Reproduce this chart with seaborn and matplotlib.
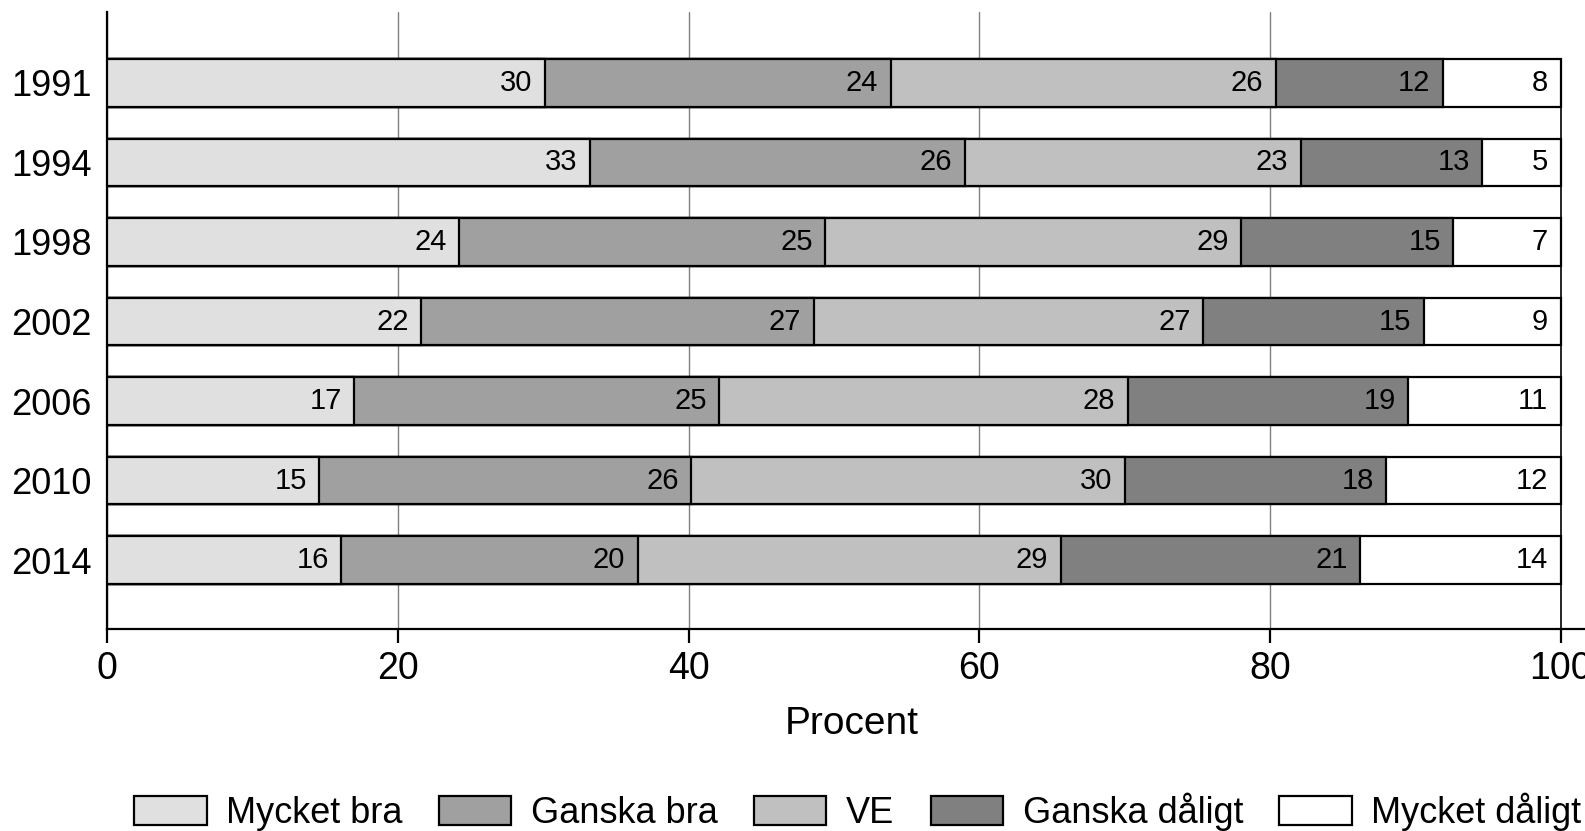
import pandas as pd
import seaborn as sns
import matplotlib.pyplot as plt

# data
years = ["1991", "1994", "1998", "2002", "2006", "2010", "2014"]
categories = ["Mycket bra", "Ganska bra", "VE", "Ganska dåligt", "Mycket dåligt"]
# printed (rounded) percentages
mycket_bra = [30, 33, 24, 22, 17, 15, 16]
ganska_bra = [24, 26, 25, 27, 25, 26, 20]
ve = [26, 23, 29, 27, 28, 30, 29]
ganska_daligt = [12, 13, 15, 15, 19, 18, 21]
mycket_daligt = [8, 5, 7, 9, 11, 12, 14]
# segment widths as measured from the bars (unrounded shares)
share_mycket_bra = [30.1, 33.2, 24.2, 21.6, 17.0, 14.6, 16.1]
share_ganska_bra = [23.8, 25.8, 25.2, 27.0, 25.1, 25.6, 20.4]
share_ve = [26.5, 23.1, 28.6, 26.8, 28.1, 29.8, 29.1]
share_ganska_daligt = [11.5, 12.5, 14.6, 15.2, 19.3, 18.0, 20.6]
share_mycket_daligt = [8.1, 5.4, 7.4, 9.4, 10.5, 12.0, 13.8]
colors = ["#e0e0e0", "#a0a0a0", "#c0c0c0", "#808080", "#ffffff"]
bar_width = 0.6

sns.set_style("white", {"text.color": "black", "xtick.color": "black",
                        "ytick.color": "black", "axes.labelcolor": "black"})
plt.rcParams["font.family"] = ["Liberation Sans", "DejaVu Sans"]

labels_df = pd.DataFrame({"Mycket bra": mycket_bra, "Ganska bra": ganska_bra, "VE": ve,
                          "Ganska dåligt": ganska_daligt, "Mycket dåligt": mycket_daligt})
shares = pd.DataFrame({"Mycket bra": share_mycket_bra, "Ganska bra": share_ganska_bra,
                       "VE": share_ve, "Ganska dåligt": share_ganska_daligt,
                       "Mycket dåligt": share_mycket_daligt})
cum = shares.cumsum(axis=1)
cum = cum.div(cum["Mycket dåligt"], axis=0) * 100  # every bar ends at 100 %
cum["year"] = years

fig = plt.figure(figsize=(15.85, 8.31), dpi=100)
# the x axis runs a bit past 100, so the right part is cut by the figure edge
ax = fig.add_axes([0.0676, 0.2433, 0.940, 0.7421])

# stacked bars: draw the longest cumulative first, shorter ones on top
for cat, col in reversed(list(zip(categories, colors))):
    sns.barplot(data=cum, x=cat, y="year", orient="h", color=col, width=bar_width,
                edgecolor="black", linewidth=1.6, saturation=1, ax=ax,
                label=cat, zorder=3)
if ax.get_legend() is not None:
    ax.get_legend().remove()

# value labels, right aligned inside each segment
for cat in categories:
    for i in range(len(years)):
        ax.annotate(str(labels_df[cat][i]), (cum[cat][i], i), xytext=(-9, 0),
                    textcoords="offset points", ha="right", va="center",
                    fontsize=21, zorder=5, annotation_clip=False)

ax.set_xlim(0, 102.5)
ax.set_ylim(6.864, -0.89)
ax.set_xticks([0, 20, 40, 60, 80, 100])
ax.grid(axis="x", color="#808080", linewidth=1, zorder=0)
ax.xaxis.get_gridlines()[-1].set_visible(False)
ax.vlines(100, -bar_width / 2, ax.get_ylim()[0], color="black", linewidth=1.2, zorder=2)
ax.grid(axis="y", visible=False)
ax.set_ylabel("")
ax.set_xlabel("Procent", fontsize=28, labelpad=14)
ax.tick_params(axis="x", labelsize=27, bottom=True, direction="out",
               length=10, width=1.6, pad=6)
ax.tick_params(axis="y", labelsize=26, length=0, pad=11)
for s in ["top", "right"]:
    ax.spines[s].set_visible(False)
for s in ["left", "bottom"]:
    ax.spines[s].set_linewidth(1.6)
    ax.spines[s].set_color("black")

handles, labels = ax.get_legend_handles_labels()
order = [labels.index(c) for c in categories]
fig.legend([handles[k] for k in order], categories, loc="center left",
           bbox_to_anchor=(0.0848, 0.0232), ncol=5, frameon=False, fontsize=26,
           handlelength=2.0, handleheight=0.85, handletextpad=0.55,
           columnspacing=1.0, borderpad=0, borderaxespad=0)

fig.savefig("out.png", dpi=100)
